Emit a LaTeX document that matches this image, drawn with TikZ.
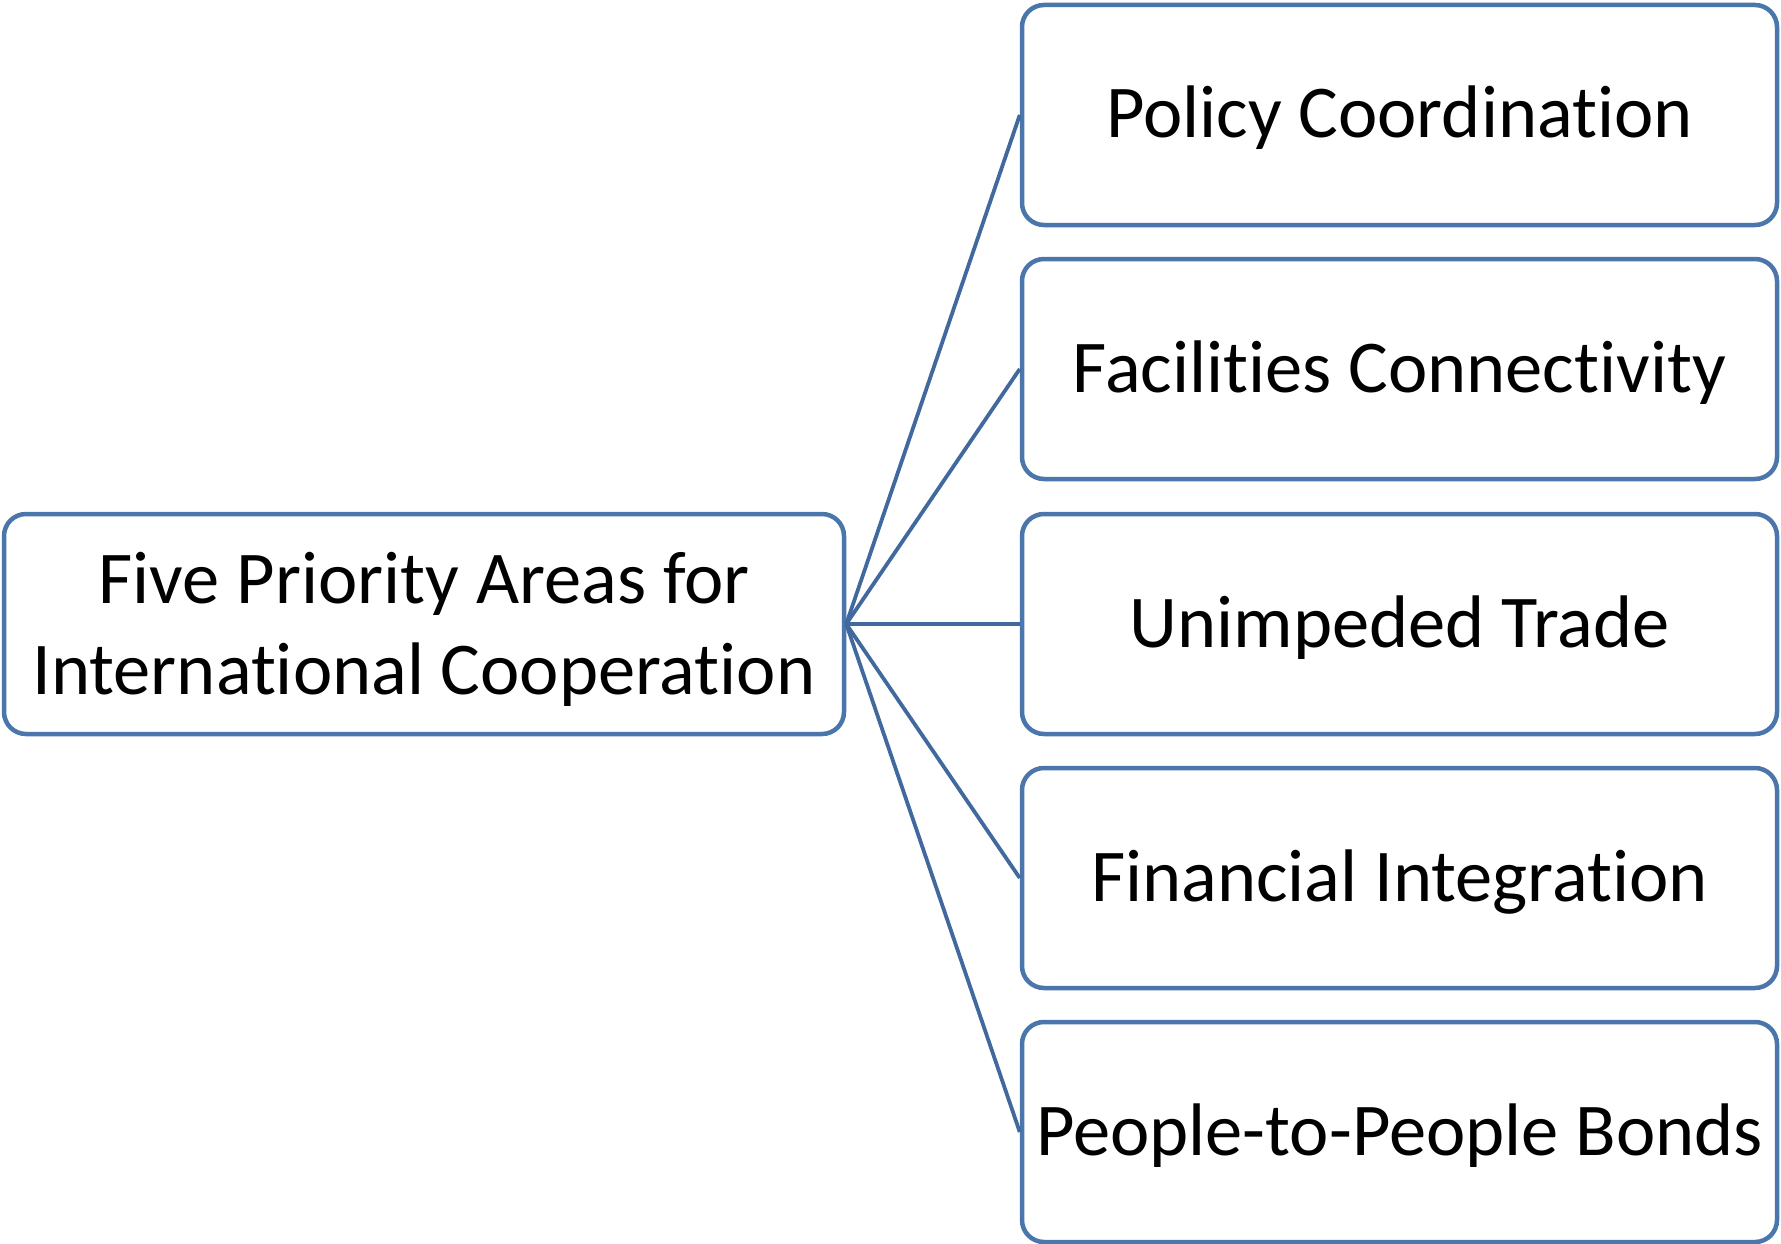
\documentclass[tikz,border=0pt]{standalone}
\usepackage{fontspec}
\setmainfont[Ligatures=NoCommon]{Carlito}
\definecolor{boxblue}{HTML}{4A76AB}
\definecolor{linkblue}{HTML}{41699D}
\begin{document}
\begin{tikzpicture}[x=1pt,y=-1pt,
  area/.style={draw=boxblue, line width=4.5pt, rounded corners=22pt, fill=white,
    inner sep=0pt, minimum width=755pt, text height=133pt, text depth=87pt,
    align=center, font=\fontsize{74.5}{91}\selectfont},
  hub/.style={area, minimum width=840pt, text height=180pt, text depth=40pt},
  link/.style={draw=linkblue, line width=3.8pt}]
\useasboundingbox (0,0) rectangle (1781,1244);
\node[hub] (hub) at (424,624) {Five Priority Areas for\\International Cooperation};
\node[area] (policy) at (1399.5,115) {Policy Coordination};
\node[area] (facil) at (1399.5,369) {Facilities Connectivity};
\node[area] (trade) at (1399.5,624) {Unimpeded Trade};
\node[area] (fin) at (1399.5,878) {Financial Integration};
\node[area] (people) at (1399.5,1132) {People-to-People Bonds};
\foreach \t in {policy,facil,trade,fin,people}
  \draw[link] (hub.east) -- (\t.west);
\end{tikzpicture}
\end{document}
